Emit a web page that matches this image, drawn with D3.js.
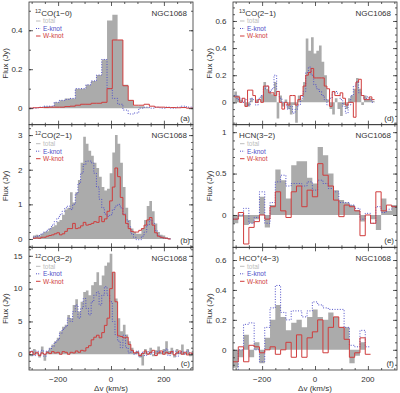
<!DOCTYPE html>
<html><head><meta charset="utf-8">
<script src="https://cdn.jsdelivr.net/npm/d3@7"></script>
<style>body{margin:0;background:#fff} text{font-family:"Liberation Sans",Arial,sans-serif}</style>
</head><body><svg id="c" width="400" height="393"></svg>
<script>
// ---------- data ----------
const vA = [-305,-285,-265,-245,-225,-205,-185,-165,-145,-125,-105,-85,-65,-45,-25,-5,15,35,55,75,95,115,135,155,175,195,215,235,255,275,295,315];
const totA = [0,0,0,0.01,0.01,0.03,0.04,0.05,0.05,0.1,0.1,0.12,0.14,0.17,0.25,0.45,0.48,0.35,0.12,0.04,0.01,0.01,0.005,0,0,0,0,0,0,0,0,0];
const eA = [0,0,0.005,0.01,0.01,0.03,0.04,0.045,0.05,0.1,0.1,0.12,0.14,0.17,0.25,0.1,0.05,0.02,-0.01,-0.03,-0.025,0,0.005,0,0.005,0,0.005,0,0.005,0.01,0.005,0];
const wA = [0,0.002,0.003,0.003,0.005,0.005,0.005,0.008,0.01,0.015,0.02,0.02,0.025,0.025,0.03,0.1,0.35,0.35,0.115,0.04,0.015,0.015,0.02,0.01,0.005,0.005,0.003,0.003,0.002,0.003,0,0];

const vB = [-290,-280,-270,-260,-250,-240,-230,-220,-210,-200,-190,-180,-170,-160,-150,-140,-130,-120,-110,-100,-90,-80,-70,-60,-50,-40,-30,-20,-10,0,10,20,30,40,50,60,70,80,90,100,110,120,130,140,150,160,170,180,190,200,210,220];
const totB = [0.1,0.12,0.1,0.15,0.2,0.22,0.3,0.35,0.4,0.5, 0.55,0.7,0.85,0.9,1.35,1.05,1.35,1.7,2.2,2.95, 2.75,2.55,2.4,2.2,2.05,1.8,1.5,1.4,1.45,1.9, 2.5,3.0,2.75,2.2,1.5,0.9,0.55,0.3,0.2,0.15, 0.15,0.3,0.55,0.95,1.1,0.8,0.45,0.2,0.12,0.1, 0.05,0.03];
const eB = [0.05,0.08,0.1,0.15,0.2,0.25,0.3,0.4,0.5,0.6, 0.7,0.8,0.9,0.95,0.85,1.0,1.3,1.6,1.9,2.15, 2.25,2.25,2.2,1.9,1.5,1.15,0.9,0.72,0.65,0.7, 0.85,0.95,1.0,0.9,0.72,0.55,0.35,0.15,0.05,-0.02, -0.02,0.08,0.2,0.4,0.55,0.45,0.25,0.1,0.05,0.03, 0.02,0];
const wB = [0.02,0.03,0.02,0.05,0.05,0.08,0.1,0.12,0.15,0.18, 0.12,0.15,0.22,0.3,0.3,0.45,0.3,0.32,0.38,0.48, 0.4,0.42,0.45,0.5,0.48,0.65,0.5,0.58,0.8,1.1, 1.5,2.05,1.8,1.2,0.7,0.45,0.3,0.22,0.2,0.2, 0.25,0.3,0.4,0.55,0.62,0.4,0.18,0.08,0.05,0.03, 0.02,0];

const vC = [-310,-300,-290,-280,-270,-260,-250,-240,-230,-220,-210,-200,-190,-180,-170,-160,-150,-140,-130,-120,-110,-100,-90,-80,-70,-60,-50,-40,-30,-20,-10,0,10,20,30,40,50,60,70,80,90,100,110,120,130,140,150,160,170,180,190,200,210,220,230,240,250,260,270,280,290,300,310];
const totC = [0.5,-0.3,0.8,0.2,-0.5,1.2,-1.0,0.5,1.0,1.5, 2.0,2.5,3.5,4.2,4.5,6.0,5.5,7.5,8.4,6.5, 8.0,9.5,9.7,9.0,10.5,11.0,12.5,10.5,12.0,13.5, 14.0,15.3,12.5,8.5,5.5,3.5,4.5,3.0,2.0,1.0, 0.3,0.5,-0.5,-1.7,0.8,0.2,1.0,-0.3,0.6,1.2, 0.3,0.8,2.0,0.5,1.0,-0.5,0.8,0.3,1.5,0.2, 0.8,-0.3,0.5];
const eC = [0.3,0.5,-0.2,0.5,0,0.6,-0.3,0.5,0.8,1.2, 1.8,2.2,3.2,3.8,4.2,5.5,5.0,6.5,7.5,5.5, 7.0,8.5,7.0,6.0,8.0,9.0,9.5,7.5,9.0,10.3, 9.0,8.0,5.0,3.0,2.0,1.0,2.9,1.0,0.2,0.5, 0,0.5,-0.3,0.3,-0.2,0.4,0,0.3,-0.2,0.5, 0.2,0.4,0.8,-0.2,0.3,0.5,-0.3,0.2,0.4,0, 0.5,0.2,0];
const wC = [0.2,0.4,0,0.3,-0.2,0.2,0,0.3,0.1,0.4, 0.2,0.3,0,0.4,0.3,0,0.3,0.2,0.5,0.3, 0.6,0.5,1.0,1.3,2.2,2.6,2.9,2.5,3.3,4.4, 5.5,10.0,12.5,8.0,2.8,2.7,2.5,2.6,1.5,0.6, 0.2,0.3,-0.2,0.1,0.5,0,0.3,0.6,-0.2,0.2, 0.5,0,0.3,0.1,0.4,-0.1,0.2,0.5,0,0.3, -0.1,0.2,0.1];

const vD = [-300,-290,-280,-270,-260,-250,-240,-230,-220,-210,-200,-190,-180,-170,-160,-150,-140,-130,-120,-110,-100,-90,-80,-70,-60,-50,-40,-30,-20,-10,0,10,20,30,40,50,60,70,80,90,100,110,120,130,140,150,160,170,180,190,200,210,220];
const totD = [0.08,0.05,0.02,0,-0.03,-0.03,0.03,0,0.02,0, 0.05,0.15,0.1,0.08,0.06,0.15,-0.12,0.05,-0.03,0.02, -0.05,-0.09,-0.02,-0.15,0.05,0.02,0.15,0.47,0.38,0.48, 0.36,0.38,0.42,0.3,0.2,0.02,-0.05,-0.09,0.03,-0.05, -0.1,-0.02,-0.05,0.03,0.05,0.1,0.18,0.1,-0.02,0.05, 0.02,0.03,0.01];
const eD = [0.05,0.02,0.03,0,0.02,-0.02,0.03,0.02,-0.02,0.03, 0.05,0.1,0.12,0.08,0.1,0.2,0.08,0.03,0,-0.02, -0.05,-0.03,-0.08,-0.05,-0.02,0.03,0.08,0.22,0.26,0.2, 0.13,0.1,0.08,0.05,0.02,-0.02,0.03,0.07,0.08,0.05, 0.02,-0.03,-0.08,-0.02,0.05,0.12,0.15,0.07,0.05,0.02, 0.04,0.02,0];
const wD = [0.04,0.04,0,0.03,-0.03,0.09,0.09,0.05,0,0.02, 0,0.12,0.12,0.07,0.07,0.05,0.08,0,-0.05,0, -0.02,0.05,0.05,-0.02,0.02,0.05,0.12,0.2,0.22,0.25, 0.18,0.18,0.18,0.18,0.12,0.1,-0.03,0.08,0.05,0.05, 0.07,0.03,-0.02,0,0,-0.11,0.15,0.17,0.05,0.02, 0.02,0.04,0.02];

const vE = [-300,-280,-260,-240,-220,-200,-180,-160,-140,-120,-100,-80,-60,-40,-20,0,20,40,60,80,100,120,140,160,180,200,220,240,260,280,300];
const totE = [-0.1,-0.02,-0.12,-0.1,-0.05,0.22,-0.15,0.12,0.55,0.42,0.2,0.6,0.65,0.65,0.45,0.38,0.82,0.72,0.5,0.3,0.18,0.15,0.12,0.06,-0.08,0,-0.05,-0.18,0.2,0.05,0.12];
const eE = [-0.05,0,0.08,-0.1,-0.03,0.28,-0.1,0.15,0.4,0.48,0.35,0.38,0.38,0.35,0.4,0.3,0.42,0.38,0.32,0.28,0.15,0.15,0.12,0.08,-0.05,0.02,-0.1,0.1,0.03,0.07,0.1];
const wE = [-0.05,0.03,-0.35,-0.15,-0.08,0,-0.05,0.1,0.28,0.05,-0.03,0.28,0.35,0.1,0.3,0.22,0.62,0.48,0.35,0.18,-0.02,0.12,0.1,0.05,-0.25,0,-0.1,0.28,0.05,0.12,0.1];

const vF = [-300,-280,-260,-240,-220,-200,-180,-160,-140,-120,-100,-80,-60,-40,-20,0,20,40,60,80,100,120,140,160,180,200];
const totF = [-0.12,-0.05,0.1,-0.05,0.05,-0.09,0.08,0.2,0.3,0.22,0.13,0.18,0.2,0.15,0.22,0.27,0.22,0.2,0.25,0.22,0.15,0.15,-0.09,-0.04,0.05,0];
const eF = [-0.15,0,0.17,0.18,0,-0.08,0.15,0.28,0.43,0.25,0.2,0.26,0.26,0.22,0.26,0.32,0.3,0.28,0.27,0.27,0.27,0.15,0.03,0.02,0.13,0.02];
const wF = [-0.08,0.02,-0.08,0.03,0.02,-0.02,0,0.02,-0.03,0,0.05,-0.05,0.1,-0.05,0.08,0.12,0.2,-0.02,0.15,0.22,0.15,0.07,-0.05,-0.02,0.08,-0.03];

const lineNames = [["12","CO(1\u22120)"],["12","CO(2\u22121)"],["12","CO(3\u22122)"],["13","CO(2\u22121)"],["HCN(3\u22122)"],["HCO","+","(4\u22123)"]];
const letters = ["(a)","(b)","(c)","(d)","(e)","(f)"];
const yLabels = [[0,0.2,0.4],[0,1,2,3],[0,5,10,15],[0,0.2,0.4,0.6],[0,0.5,1],[0,0.2,0.4,0.6]];
const xLabels = [-200,0,200];
const legendNames = ["total","E-knot","W-knot"];
const galaxy = "NGC1068";

// ---------- layout / style ----------
const colX = [[29,193],[233,397]];
const rowY = [[2,124.7],[124.7,247.3],[247.3,370]];
const xDomain = [-310,310];
const yDomains = [[-0.085,0.545],[-0.24,3.3],[-2.4,16.3],[-0.165,0.74],[-0.39,1.09],[-0.135,0.685]];
const yMinor = [0.1,0.2,1,0.05,0.1,0.05];
const GRAY = "#ababab", BLUE = "#5050c8", RED = "#d03c3c", INK = "#333";

const data = [
  {v:vA,t:totA,e:eA,w:wA},{v:vB,t:totB,e:eB,w:wB},{v:vC,t:totC,e:eC,w:wC},
  {v:vD,t:totD,e:eD,w:wD},{v:vE,t:totE,e:eE,w:wE},{v:vF,t:totF,e:eF,w:wF}
];

const svg = d3.select("#c");

data.forEach((d,i)=>{
  const col = i<3?0:1, row = i%3;
  const [x0,x1] = colX[col], [y0,y1] = rowY[row];
  const x = d3.scaleLinear().domain(xDomain).range([x0,x1]);
  const y = d3.scaleLinear().domain(yDomains[i]).range([y1,y0]);
  const g = svg.append("g");
  const cid = "clip"+i;
  svg.append("clipPath").attr("id",cid).append("rect").attr("x",x0).attr("y",y0).attr("width",x1-x0).attr("height",y1-y0);
  const w = d.v[1]-d.v[0];
  const steps = arr => arr.flatMap((val,k)=>[[d.v[k]-w/2,val],[d.v[k]+w/2,val]]);
  const plot = g.append("g").attr("clip-path",`url(#${cid})`);
  plot.append("path").attr("d", d3.area().x(p=>x(p[0])).y0(y(0)).y1(p=>y(p[1]))(steps(d.t))).attr("fill",GRAY);
  const ln = d3.line().x(p=>x(p[0])).y(p=>y(p[1]));
  plot.append("path").attr("d", ln(steps(d.e))).attr("fill","none").attr("stroke",BLUE).attr("stroke-width",1).attr("stroke-dasharray","1,1.6");
  plot.append("path").attr("d", ln(steps(d.w))).attr("fill","none").attr("stroke",RED).attr("stroke-width",1);

  // axes: ticks inward on all sides
  const yMaj = yLabels[i];
  const yMin = d3.range(Math.ceil(yDomains[i][0]/yMinor[i])*yMinor[i], yDomains[i][1], yMinor[i]).map(v=>+v.toFixed(4));
  const xMaj = [-200,0,200];
  const xMin = [-300,-250,-150,-100,-50,50,100,150,250,300];
  const ax = (gen, tx, ty) => {
    const a = g.append("g").attr("transform",`translate(${tx},${ty})`).call(gen);
    a.select(".domain").remove();
    a.selectAll("line").attr("stroke",INK).attr("stroke-width",0.8);
    a.selectAll("text").remove();
    return a;
  };
  ax(d3.axisLeft(y).tickValues(yMaj).tickSize(-4), x0, 0);
  ax(d3.axisLeft(y).tickValues(yMin).tickSize(-2), x0, 0);
  ax(d3.axisRight(y).tickValues(yMaj).tickSize(-4), x1, 0);
  ax(d3.axisRight(y).tickValues(yMin).tickSize(-2), x1, 0);
  ax(d3.axisBottom(x).tickValues(xMaj).tickSize(-4), 0, y1);
  ax(d3.axisBottom(x).tickValues(xMin).tickSize(-2), 0, y1);
  ax(d3.axisTop(x).tickValues(xMaj).tickSize(-4), 0, y0);
  ax(d3.axisTop(x).tickValues(xMin).tickSize(-2), 0, y0);
  g.append("rect").attr("x",x0).attr("y",y0).attr("width",x1-x0).attr("height",y1-y0)
    .attr("fill","none").attr("stroke",INK).attr("stroke-width",0.8);

  // y tick labels
  g.selectAll(".yl").data(yMaj).join("text")
    .attr("x",x0-6.5).attr("y",v=>y(v)).attr("dy","0.35em").attr("text-anchor","end")
    .attr("font-size",8).attr("fill",INK).text(v=>String(v));
  // x tick labels on bottom row
  if(row===2){
    g.selectAll(".xl").data(xLabels).join("text")
      .attr("x",v=>x(v)).attr("y",381.5).attr("text-anchor","middle")
      .attr("font-size",8).attr("fill",INK).text(v=>v<0?"\u2212"+Math.abs(v):String(v));
    g.append("text").attr("x",(x0+x1)/2).attr("y",390.5).attr("text-anchor","middle")
      .attr("font-size",8).attr("fill",INK).text("\u0394v (km/s)");
  }
  // y axis title
  g.append("text").attr("transform",`translate(${x0-21},${(y0+y1)/2}) rotate(-90)`)
    .attr("text-anchor","middle").attr("font-size",8).attr("fill",INK).text("Flux (Jy)");

  // title
  const tt = g.append("text").attr("x",x0+6).attr("y",y0+13.5).attr("font-size",8).attr("fill",INK);
  const nm = lineNames[i];
  if(nm.length===1){ tt.append("tspan").text(nm[0]); }
  else if(nm.length===2){
    tt.append("tspan").attr("font-size",5.5).attr("dy",-3).text(nm[0]);
    tt.append("tspan").attr("dy",3).text(nm[1]);
  } else {
    tt.append("tspan").text(nm[0]);
    tt.append("tspan").attr("font-size",5.5).attr("dy",-3).text(nm[1]);
    tt.append("tspan").attr("dy",3).text(nm[2]);
  }
  g.append("text").attr("x",x1-6).attr("y",y0+13.5).attr("text-anchor","end")
    .attr("font-size",8).attr("fill",INK).text(galaxy);
  g.append("text").attr("x",x1-3).attr("y",y1-4).attr("text-anchor","end")
    .attr("font-size",8).attr("fill",INK).text(letters[i]);

  // legend
  const lc = ["#bdbdbd",BLUE,RED];
  legendNames.forEach((n,k)=>{
    const ly = y0+21.3+k*7.5;
    g.append("line").attr("x1",x0+7).attr("x2",x0+11.5).attr("y1",ly-2.3).attr("y2",ly-2.3)
      .attr("stroke",lc[k]).attr("stroke-width",1).attr("stroke-dasharray",k===1?"1,1.2":null);
    g.append("text").attr("x",x0+14).attr("y",ly).attr("font-size",6.5).attr("fill",lc[k]).text(n);
  });
});
</script></body></html>
